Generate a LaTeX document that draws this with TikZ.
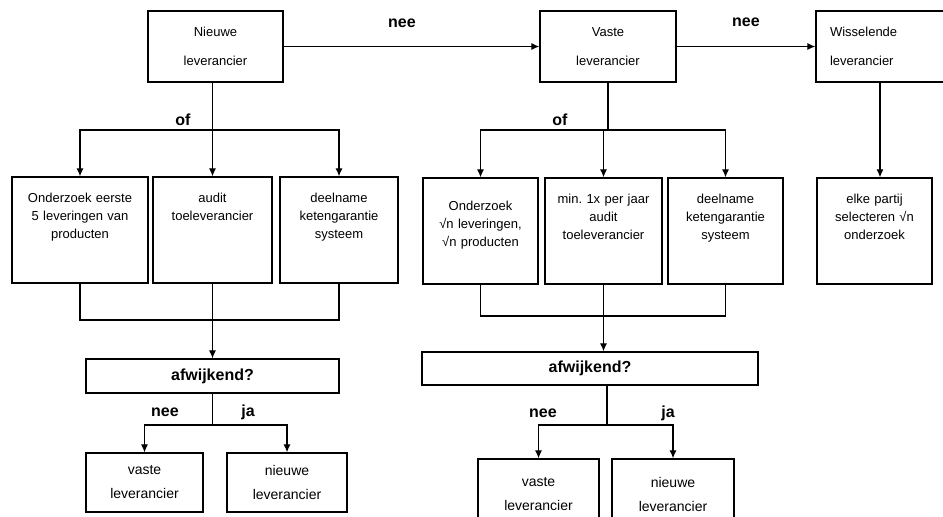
\documentclass[tikz,border=0pt]{standalone}
\usepackage{fontspec}
\setmainfont{Liberation Sans}
\usetikzlibrary{arrows.meta, positioning, calc}

\begin{document}
\begin{tikzpicture}[x=1pt, y=-1pt,
  top/.style={draw, line width=1.3pt, minimum width=#1, minimum height=71pt,
              font=\fontsize{13}{29}\selectfont, align=center},
  act/.style={draw, line width=1.3pt, minimum width=#1, inner sep=4pt,
              text width=104pt, text height=21pt, text depth=77pt,
              font=\fontsize{13}{18}\selectfont, align=center},
  dec/.style={draw, line width=1.3pt, minimum width=#1, minimum height=34pt,
              font=\bfseries\fontsize{16}{19}\selectfont},
  res/.style={draw, line width=1.3pt, minimum width=#1, minimum height=59pt,
              font=\fontsize{14}{24}\selectfont, align=center},
  lbl/.style={font=\bfseries\fontsize{16}{19}\selectfont},
  ln/.style={line width=1.2pt},
  arr/.style={line width=1.2pt, -{Latex[length=8pt, width=7pt]}}
]
\useasboundingbox (0,0) rectangle (943,517);
\clip (0,0) rectangle (943,517);

% Top row: suppliers
\node[top=135pt] (nieuw) at (215.5,46.5) {Nieuwe\\leverancier};
\node[top=136pt] (vast)  at (608,46.5)   {Vaste\\leverancier};
\node[top=128pt, text width=100pt, align=left] (wissel) at (880,46.5)
  {Wisselende\\leverancier};
\draw[arr] (nieuw) -- (vast);
\draw[arr] (vast) -- (wissel);
\node[lbl] (nee1) at (402,23) {nee};
\node[lbl] (nee2) at (746,22) {nee};

% Branch 1: new supplier (left)
\node[act=136pt, text width=124pt] (ond1) at (80,230)
  {Onderzoek eerste\\5 leveringen van\\producten};
\node[act=119pt] (aud1)  at (212.5,230) {audit\\toeleverancier};
\node[act=118pt] (deel1) at (339,230)   {deelname\\ketengarantie\\systeem};
\coordinate (of1) at (212.5,130);
\draw[ln] (of1 |- nieuw.south) -- (of1);
\node[lbl] (ofl1) at (183,120) {of};
\foreach \n in {ond1,aud1,deel1} \draw[arr] (of1) -| (\n.north);

% Branch 2: fixed supplier (middle)
\node[act=115pt, text height=28pt, text depth=70pt] (ond2) at (480.5,231)
  {Onderzoek\\√n leveringen,\\√n producten};
\node[act=117pt] (aud2)  at (603.5,231) {min.\ 1x per jaar\\audit\\toeleverancier};
\node[act=115pt] (deel2) at (725.5,231) {deelname\\ketengarantie\\systeem};
\coordinate (of2) at (608,130);
\draw[ln] (vast.south) -- (of2);
\node[lbl] (ofl2) at (560,120) {of};
\foreach \n in {ond2,aud2,deel2} \draw[arr] (of2) -| (\n.north);

% Branch 3: changing supplier (right)
\node[act=115pt] (elke) at (874.5,231) {elke partij\\selecteren √n\\onderzoek};
\draw[arr] (wissel.south) -- (wissel.south |- elke.north);

% Decision 1
\node[dec=253pt] (afw1) at (212.5,376) {afwijkend?};
\coordinate (m1) at (212.5,320);
\foreach \n in {ond1,aud1,deel1} \draw[ln] (\n.south) |- (m1);
\draw[arr] (m1) -- (afw1.north);
\node[res=117pt] (vast1)  at (144.5,482.5) {vaste\\leverancier};
\node[res=120pt] (nieuw1) at (287,482.5)   {nieuwe\\leverancier};
\coordinate (s1) at (212.5,425);
\draw[ln] (afw1.south) -- (s1);
\foreach \n in {vast1,nieuw1} \draw[arr] (s1) -| (\n.north);
\node[lbl] (nee3) at (165,412) {nee};
\node[lbl] (ja1)  at (248,412) {ja};

% Decision 2
\node[dec=336pt, minimum height=33pt] (afw2) at (590,368.5) {afwijkend?};
\coordinate (m2) at (603.5,316);
\foreach \n in {ond2,aud2,deel2} \draw[ln] (\n.south) |- (m2);
\draw[arr] (m2) -- (m2 |- afw2.north);
\node[res=121pt, minimum height=70pt] (vast2)  at (538.5,494) {vaste\\leverancier};
\node[res=122pt, minimum height=70pt] (nieuw2) at (673,494)   {nieuwe\\leverancier};
\coordinate (s2) at (607,425);
\draw[ln] (s2 |- afw2.south) -- (s2);
\foreach \n in {vast2,nieuw2} \draw[arr] (s2) -| (\n.north);
\node[lbl] (nee4) at (543,413) {nee};
\node[lbl] (ja2)  at (668,413) {ja};
\end{tikzpicture}
\end{document}
